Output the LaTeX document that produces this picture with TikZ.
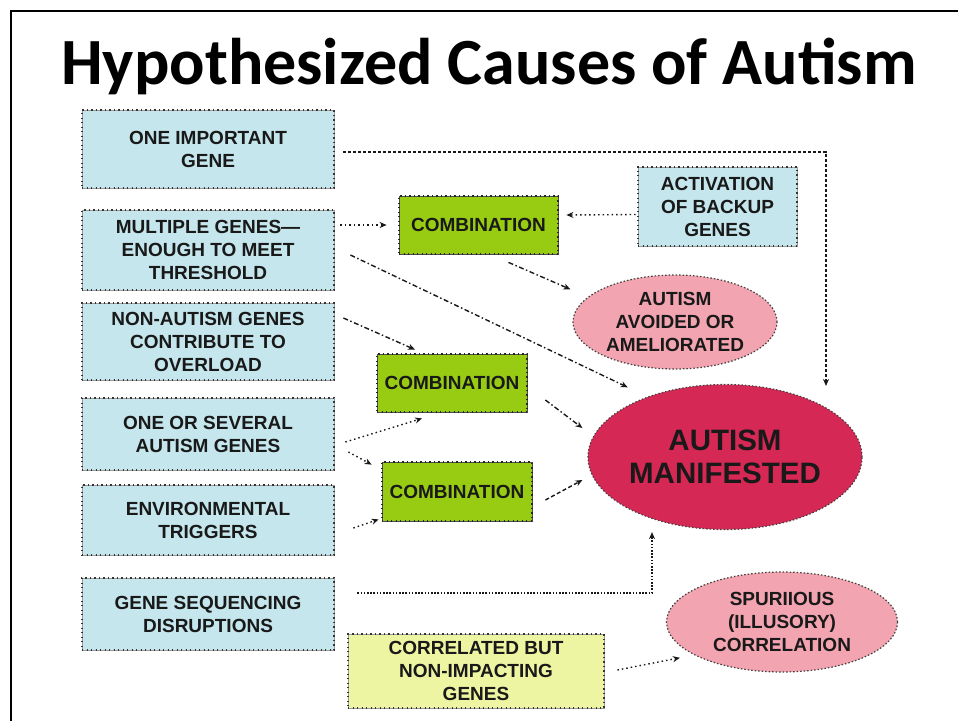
\documentclass[tikz,border=0pt]{standalone}
\usepackage{fontspec}
\setmainfont{Liberation Sans}
\newfontfamily\titlefont{Carlito}
\usetikzlibrary{arrows.meta,shapes.geometric}
\definecolor{boxblue}{RGB}{196,230,236}
\definecolor{combgreen}{RGB}{152,204,18}
\definecolor{softpink}{RGB}{242,164,176}
\definecolor{crimson}{RGB}{214,40,84}
\definecolor{paleyellow}{RGB}{238,245,162}
\tikzset{
  lab/.style={font=\fontsize{19}{23}\selectfont\bfseries, align=center, text=black!90},
  bluebox/.style={lab, rectangle, fill=boxblue, draw=gray!80, line width=0.8,
     minimum width=252, inner sep=0, postaction={draw=black!80, line width=1.3, dash pattern=on 1.3 off 3.2}},
  combbox/.style={lab, rectangle, fill=combgreen, draw=gray!60!black, line width=0.8,
     inner sep=0, postaction={draw=black!85, line width=1.3, dash pattern=on 1.3 off 3.2}},
  yelbox/.style={lab, rectangle, fill=paleyellow, draw=gray!80, line width=0.8,
     inner sep=0, postaction={draw=black!80, line width=1.3, dash pattern=on 1.3 off 3.2}},
  oval/.style={lab, ellipse, inner sep=0, draw=black!75, line width=1.2, dash pattern=on 1.5 off 2},
  conn/.style={line width=1.4, black!90, -{Stealth[length=7,width=6]}},
  dotl/.style={conn, dash pattern=on 1.5 off 3},
  dashdotl/.style={conn, dash pattern=on 5 off 2.5 on 1.5 off 2.5},
  dashl/.style={conn, dash pattern=on 4 off 2.5},
  fine/.style={conn, dash pattern=on 3 off 2},
  densel/.style={conn, line width=2, dash pattern=on 1.6 off 1.6},
}
\begin{document}
\begin{tikzpicture}[x=1pt,y=-1pt]
\useasboundingbox (0,0) rectangle (958,721);
\fill[white] (0,0) rectangle (958,721);
\draw[line width=2] (11,721) -- (11,11) -- (958,11);
\node (title) at (489,66) {\titlefont\bfseries\fontsize{66}{70}\selectfont Hypothesized Causes of Autism};

% left column
\node[bluebox, minimum height=78] (b1) at (208,149) {ONE IMPORTANT\\GENE};
\node[bluebox, minimum height=80] (b2) at (208,250) {MULTIPLE GENES---\\ENOUGH TO MEET\\THRESHOLD};
\node[bluebox, minimum height=77] (b3) at (208,341.5) {NON-AUTISM GENES\\CONTRIBUTE TO\\OVERLOAD};
\node[bluebox, minimum height=72] (b4) at (208,434) {ONE OR SEVERAL\\AUTISM GENES};
\node[bluebox, minimum height=70] (b5) at (208,520) {ENVIRONMENTAL\\TRIGGERS};
\node[bluebox, minimum height=72] (b6) at (208,614) {GENE SEQUENCING\\DISRUPTIONS};

% middle and right
\node[bluebox, minimum width=159, minimum height=79] (act) at (717.5,206.5) {ACTIVATION\\OF BACKUP\\GENES};
\node[combbox, minimum width=159, minimum height=58] (c1) at (478.5,225) {COMBINATION};
\node[combbox, minimum width=150, minimum height=58] (c2) at (452,383) {COMBINATION};
\node[combbox, minimum width=150, minimum height=59] (c3) at (457,491.5) {COMBINATION};
\node[yelbox, minimum width=256, minimum height=74] (corr) at (476,671) {CORRELATED BUT\\NON-IMPACTING\\GENES};

\node[oval, fill=softpink, minimum width=204, minimum height=94] (avoid) at (675,322) {AUTISM\\AVOIDED OR\\AMELIORATED};
\node[oval, fill=crimson, minimum width=274, minimum height=145,
      font=\fontsize{29.5}{33}\selectfont\bfseries] (man) at (725,457) {AUTISM\\MANIFESTED};
\node[oval, fill=softpink, minimum width=231, minimum height=100] (spur) at (782,622) {SPURIIOUS\\(ILLUSORY)\\CORRELATION};

% connectors
\coordinate (m1) at (826,386);
\draw[fine] ([shift={(9,3)}]b1.east) -| (m1);
\draw[dotl] ([shift={(6,-25)}]b2.east) -- ([xshift=-12]c1.west);
\draw[dotl] ([shift={(-2,8)}]act.west) -- ([shift={(8,-10)}]c1.east);
\draw[dashdotl] ([shift={(30,8)}]c1.south) -- ([shift={(-32,1)}]avoid.north west);
\draw[dashdotl] ([shift={(16,5)}]b2.east) -- ([shift={(0,-18)}]man.north west);
\draw[dashdotl] ([shift={(9,-23.5)}]b3.east) -- ([shift={(-37,-4)}]c2.north);
\draw[dashdotl] ([shift={(18,17)}]c2.east) -- ([shift={(-5,-29)}]man.west);
\draw[dotl] ([shift={(11,8)}]b4.east) -- ([shift={(-30,6)}]c2.south);
\draw[dotl] ([shift={(14,18)}]b4.east) -- ([shift={(-10,3)}]c3.north west);
\draw[dotl] ([shift={(19,8)}]b5.east) -- ([shift={(-3,-2)}]c3.south west);
\draw[dashl] ([shift={(13,8.5)}]c3.east) -- ([shift={(-5,23)}]man.west);
\draw[densel] ([shift={(23,-21)}]b6.east) -| ([shift={(-73,2)}]man.south);
\draw[dotl] ([shift={(13,-1)}]corr.east) -- ([shift={(-20,0)}]spur.south west);
\end{tikzpicture}
\end{document}
